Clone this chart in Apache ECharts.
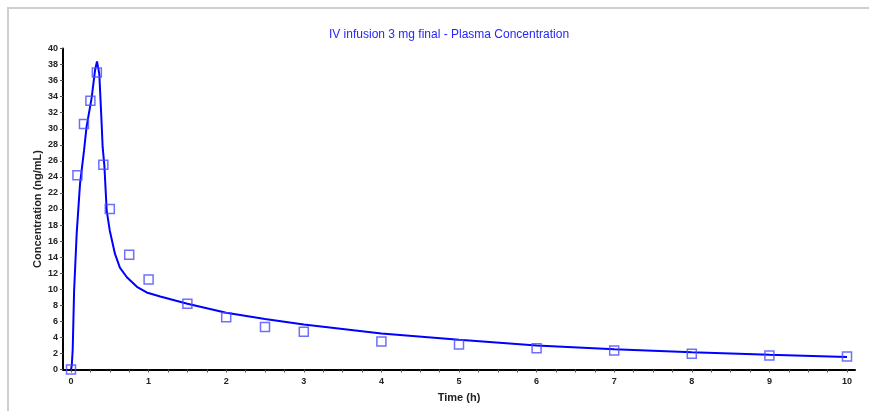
<!DOCTYPE html>
<html>
<head>
<meta charset="utf-8">
<script src="https://cdn.jsdelivr.net/npm/echarts@6/dist/echarts.min.js"></script>
<style>
html, body { margin: 0; padding: 0; background: #fff; }
#main { width: 869px; height: 411px; }
</style>
</head>
<body>
<div id="main"></div>
<script>
// observed concentrations (squares)
var obsTime = [0, 0.083, 0.167, 0.25, 0.333, 0.417, 0.5, 0.75, 1, 1.5, 2, 2.5, 3, 4, 5, 6, 7, 8, 9, 10];
var obsConc = [0, 24.2, 30.6, 33.5, 37.0, 25.5, 20.0, 14.3, 11.2, 8.2, 6.5, 5.3, 4.7, 3.5, 3.1, 2.65, 2.37, 1.95, 1.74, 1.62];

// fitted curve
var fitTime = [0, 0.01, 0.022, 0.04, 0.073, 0.116, 0.168, 0.2, 0.267, 0.31, 0.335,
	0.365, 0.395, 0.408, 0.43, 0.46, 0.5, 0.567, 0.63, 0.72, 0.85, 0.975, 1.15, 1.5,
	2, 2.5, 3, 4, 5, 6, 7, 8, 9, 10];
var fitConc = [0, 0.5, 2.5, 9.8, 16.9, 23.1, 27.3, 30.2, 33.9, 37.3, 38.4,
	36.8, 30.6, 27.7, 25.4, 19.8, 17.3, 14.4, 12.7, 11.5, 10.3, 9.6, 9.1, 8.2,
	7.07, 6.3, 5.6, 4.5, 3.7, 3.0, 2.53, 2.16, 1.83, 1.55];

var chartTitle = 'IV infusion 3 mg final - Plasma Concentration';

function pairs(xs, ys) {
	var out = [];
	for (var i = 0; i < xs.length; i++) out.push([xs[i], ys[i]]);
	return out;
}

var myChart = echarts.init(document.getElementById('main'));
var font = 'Liberation Sans, Arial, sans-serif';

var option = {
	animation: false,
	title: {
		text: chartTitle,
		left: 444,
		top: 24,
		textAlign: 'center',
		textStyle: {
			fontFamily: 'Liberation Sans Narrow, Liberation Sans, Arial, sans-serif',
			fontSize: 12,
			fontWeight: 'normal',
			color: '#2626ff'
		}
	},
	graphic: [{
		type: 'rect',
		shape: { x: 8, y: 8, width: 900, height: 450 },
		style: { fill: 'none', stroke: '#cfcfcf', lineWidth: 2 },
		z: -1
	}],
	grid: [
		{ left: 63, right: 14, top: 48.5, bottom: 41.5 },
		{ left: 71, right: 22, top: 48.5, bottom: 41.5 }
	],
	xAxis: [
		{
			// long axis line only
			gridIndex: 0, type: 'value', min: -0.103, max: 10.1,
			axisLine: { show: true, onZero: false, lineStyle: { color: '#000', width: 2 } },
			axisTick: { show: false }, axisLabel: { show: false }, splitLine: { show: false }
		},
		{
			gridIndex: 1, type: 'value', min: 0, max: 10, interval: 1,
			name: 'Time (h)', nameLocation: 'middle', nameGap: 23, nameMoveOverlap: false,
			nameTextStyle: { fontFamily: font, fontSize: 11, fontWeight: 'bold', color: '#222' },
			axisLine: { show: false, onZero: false },
			axisTick: { show: true, length: 3, lineStyle: { color: '#555' } },
			minorTick: { show: true, splitNumber: 4, length: 3, lineStyle: { color: '#555' } },
			axisLabel: { margin: 8, fontFamily: font, fontSize: 9, fontWeight: 'bold', color: '#222' },
			splitLine: { show: false }
		}
	],
	yAxis: [
		{
			gridIndex: 0, type: 'value', min: 0, max: 40, interval: 2,
			name: 'Concentration (ng/mL)', nameLocation: 'middle', nameGap: 19.5, nameMoveOverlap: false,
			nameTextStyle: { fontFamily: font, fontSize: 11, fontWeight: 'bold', color: '#222' },
			axisLine: { show: true, onZero: false, lineStyle: { color: '#000', width: 2 } },
			axisTick: { show: true, length: 3, lineStyle: { color: '#555' } },
			axisLabel: { margin: 5, fontFamily: font, fontSize: 9, fontWeight: 'bold', color: '#222' },
			splitLine: { show: false }
		},
		{
			gridIndex: 1, type: 'value', min: 0, max: 40, show: false
		}
	],
	series: [
		{
			name: 'fit',
			type: 'line',
			xAxisIndex: 1, yAxisIndex: 1,
			data: pairs(fitTime, fitConc),
			showSymbol: false,
			symbol: 'none',
			smooth: false,
			lineStyle: { color: '#0000ff', width: 2 },
			z: 2
		},
		{
			name: 'observed',
			type: 'scatter',
			xAxisIndex: 1, yAxisIndex: 1,
			data: pairs(obsTime, obsConc),
			symbol: 'rect',
			symbolSize: 9,
			itemStyle: { color: 'rgba(255,255,255,0)', borderColor: '#4a4aff', borderWidth: 1.5 },
			z: 3
		}
	]
};
myChart.setOption(option);
</script>
</body>
</html>
